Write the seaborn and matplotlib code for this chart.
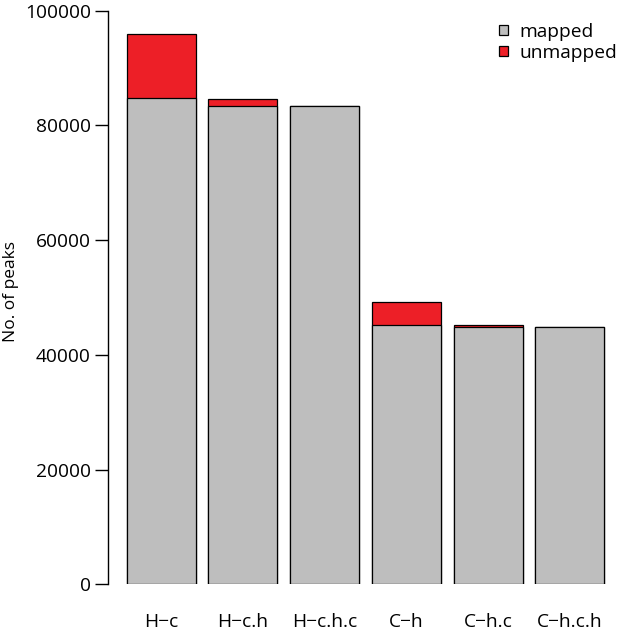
import matplotlib
matplotlib.use("Agg")
import matplotlib.pyplot as plt
from matplotlib.patches import Patch
import seaborn as sns
import pandas as pd

categories = ["H\u2212c", "H\u2212c.h", "H\u2212c.h.c", "C\u2212h", "C\u2212h.c", "C\u2212h.c.h"]
mapped = [84700, 83400, 83300, 45200, 44850, 44850]
unmapped = [11200, 1250, 0, 4000, 350, 0]
y_ticks = [0, 20000, 40000, 60000, 80000, 100000]

GRAY = "#BEBEBE"
RED = "#ED1F27"

sns.set_style("white")
plt.rcParams["font.family"] = ["Open Sans", "DejaVu Sans"]
plt.rcParams["text.color"] = "black"
plt.rcParams["xtick.color"] = "black"
plt.rcParams["ytick.color"] = "black"
plt.rcParams["axes.labelcolor"] = "black"
FS = 13.8

df = pd.DataFrame({
    "cat": categories,
    "mapped": mapped,
    "total": [m + u for m, u in zip(mapped, unmapped)],
})

fig = plt.figure(figsize=(6.17, 6.36), dpi=100)
ax = fig.add_axes([107.7 / 617, (636 - 584.3) / 636, 1 - 107.7 / 617, (584.3 - 10.7) / 636])

sns.barplot(data=df, x="cat", y="total", order=categories, color=RED,
            saturation=1, width=0.845, edgecolor="black", linewidth=0.9, ax=ax)
sns.barplot(data=df, x="cat", y="mapped", order=categories, color=GRAY,
            saturation=1, width=0.845, edgecolor="black", linewidth=0.9, ax=ax)

ax.set_xlim(-0.656, 5 + (617 - 569.7) / 81.7)
ax.set_ylim(0, 100000)
ax.set_yticks(y_ticks)
ax.set_yticklabels([str(v) for v in y_ticks], fontsize=FS)
ax.set_xlabel("")
ax.set_ylabel("")
for s in ["top", "right", "bottom"]:
    ax.spines[s].set_visible(False)
ax.spines["left"].set_linewidth(1.0)
ax.spines["left"].set_color("black")
ax.tick_params(axis="y", left=True, length=9.2, width=1.0, pad=3, colors="black", labelsize=FS)
ax.tick_params(axis="x", bottom=False, length=0, pad=21, colors="black", labelsize=FS)
for lab in ax.get_yticklabels():
    lab.set_verticalalignment("center_baseline")

fig.text(11 / 617, 1 - 292 / 636, "No. of peaks", rotation=90, ha="center", va="center",
         fontsize=12.5, color="black")

handles = [Patch(facecolor=GRAY, edgecolor="black", linewidth=0.9, label="mapped"),
           Patch(facecolor=RED, edgecolor="black", linewidth=0.9, label="unmapped")]
fig.legend(handles=handles, loc="upper left", bbox_to_anchor=(499 / 617, 1 - 23 / 636),
           frameon=False, fontsize=FS, handlelength=0.45, handleheight=0.45,
           handletextpad=0.6, labelspacing=0.16, borderpad=0, borderaxespad=0,
           labelcolor="black")

fig.savefig("out.png", dpi=100)
